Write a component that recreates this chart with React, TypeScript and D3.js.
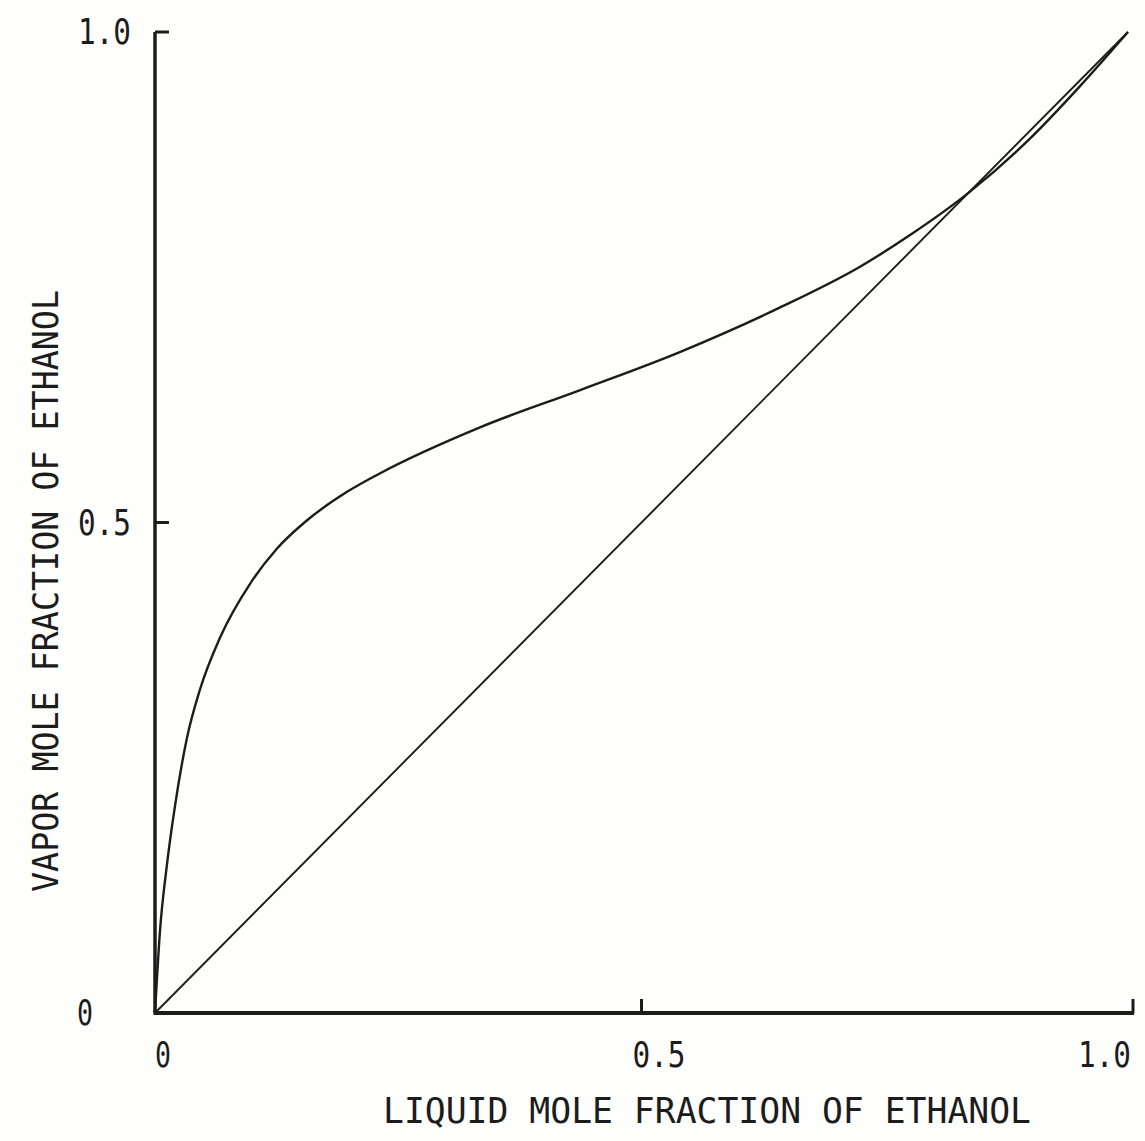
import React, { useRef, useEffect } from "react";
import * as d3 from "d3";

// liquid mole fraction (x) vs vapor mole fraction (y)
const liquidX = [0, 0.005, 0.012, 0.021, 0.033, 0.046, 0.067, 0.098, 0.125, 0.156, 0.197, 0.231, 0.334, 0.437, 0.54, 0.642, 0.725, 0.776, 0.836, 0.9, 0.95, 1.0];
const vaporY = [0, 0.082, 0.149, 0.214, 0.281, 0.329, 0.383, 0.438, 0.473, 0.502, 0.531, 0.55, 0.597, 0.635, 0.674, 0.719, 0.761, 0.793, 0.836, 0.892, 0.944, 1.0];

const xTicks = [0.5, 1.0];
const yTicks = [0.5, 1.0];
const xTickLabels = ["0", "0.5", "1.0"];
const yTickLabels = ["0", "0.5", "1.0"];
const xTitle = "LIQUID MOLE FRACTION OF ETHANOL";
const yTitle = "VAPOR MOLE FRACTION OF ETHANOL";

const W = 1145;
const H = 1141;
const INK = "#1c1c1c";
const FONT = "'DejaVu Sans Mono', monospace";

function VleChart() {
  const svgRef = useRef<SVGSVGElement>(null);

  useEffect(() => {
    const svg = d3.select(svgRef.current);
    svg.selectAll("*").remove();

    const x = d3.scaleLinear().domain([0, 1]).range([155, 1128]);
    const y = d3.scaleLinear().domain([0, 1]).range([1013, 32]);

    svg.append("rect").attr("width", W).attr("height", H).attr("fill", "#fefefd");

    // axes
    svg.append("line")
      .attr("x1", x(0)).attr("y1", y(0)).attr("x2", x(0)).attr("y2", y(1))
      .attr("stroke", INK).attr("stroke-width", 3.5);
    svg.append("line")
      .attr("x1", x(0) - 1.5).attr("y1", y(0)).attr("x2", x(1) + 6).attr("y2", y(0))
      .attr("stroke", INK).attr("stroke-width", 4);

    svg.selectAll(".ytick").data(yTicks).enter().append("line")
      .attr("x1", x(0)).attr("x2", x(0) + 14)
      .attr("y1", (d) => y(d)).attr("y2", (d) => y(d))
      .attr("stroke", INK).attr("stroke-width", 3);
    svg.selectAll(".xtick").data(xTicks).enter().append("line")
      .attr("x1", (d) => x(d) + (d === 1 ? 5 : 0)).attr("x2", (d) => x(d) + (d === 1 ? 5 : 0))
      .attr("y1", y(0)).attr("y2", y(0) - 14)
      .attr("stroke", INK).attr("stroke-width", 3);

    // diagonal y = x
    svg.append("line")
      .attr("x1", x(0)).attr("y1", y(0)).attr("x2", x(1)).attr("y2", y(1))
      .attr("stroke", INK).attr("stroke-width", 1.9);

    // equilibrium curve
    const pts = liquidX.map((v, i) => [v, vaporY[i]] as [number, number]);
    const line = d3.line<[number, number]>()
      .x((d) => x(d[0]))
      .y((d) => y(d[1]))
      .curve(d3.curveMonotoneX);
    svg.append("path")
      .attr("d", line(pts))
      .attr("fill", "none")
      .attr("stroke", INK)
      .attr("stroke-width", 2.4)
      .attr("stroke-linejoin", "round");

    // tick labels
    const tl = (txt: string, px: number, py: number, len: number) =>
      svg.append("text")
        .attr("x", px).attr("y", py)
        .attr("font-family", FONT).attr("font-size", 36)
        .attr("fill", INK)
        .attr("textLength", len).attr("lengthAdjust", "spacingAndGlyphs")
        .text(txt);

    const yVals = [0, 0.5, 1.0];
    yVals.forEach((v, i) => {
      const t = yTickLabels[i];
      const len = t.length === 1 ? 16 : 53;
      tl(t, t.length === 1 ? 77 : 78, y(v) + 12, len);
    });
    const xVals = [0, 0.5, 1.0];
    const xOff = [0, -9, -50];
    xVals.forEach((v, i) => {
      const t = xTickLabels[i];
      const len = t.length === 1 ? 16 : 53;
      tl(t, x(v) + xOff[i], 1067, len);
    });

    // axis titles
    svg.append("text")
      .attr("x", 383).attr("y", 1123)
      .attr("font-family", FONT).attr("font-size", 36).attr("fill", INK)
      .attr("textLength", 648).attr("lengthAdjust", "spacingAndGlyphs")
      .text(xTitle);
    svg.append("text")
      .attr("transform", "translate(58,892) rotate(-90)")
      .attr("font-family", FONT).attr("font-size", 36).attr("fill", INK)
      .attr("textLength", 602).attr("lengthAdjust", "spacingAndGlyphs")
      .text(yTitle);
  }, []);

  return <svg ref={svgRef} width={W} height={H} style={{ display: "block" }}></svg>;
}

export default function App() {
  return (
    <div style={{ position: "absolute", left: 0, top: 0 }}>
      <VleChart />
    </div>
  );
}
